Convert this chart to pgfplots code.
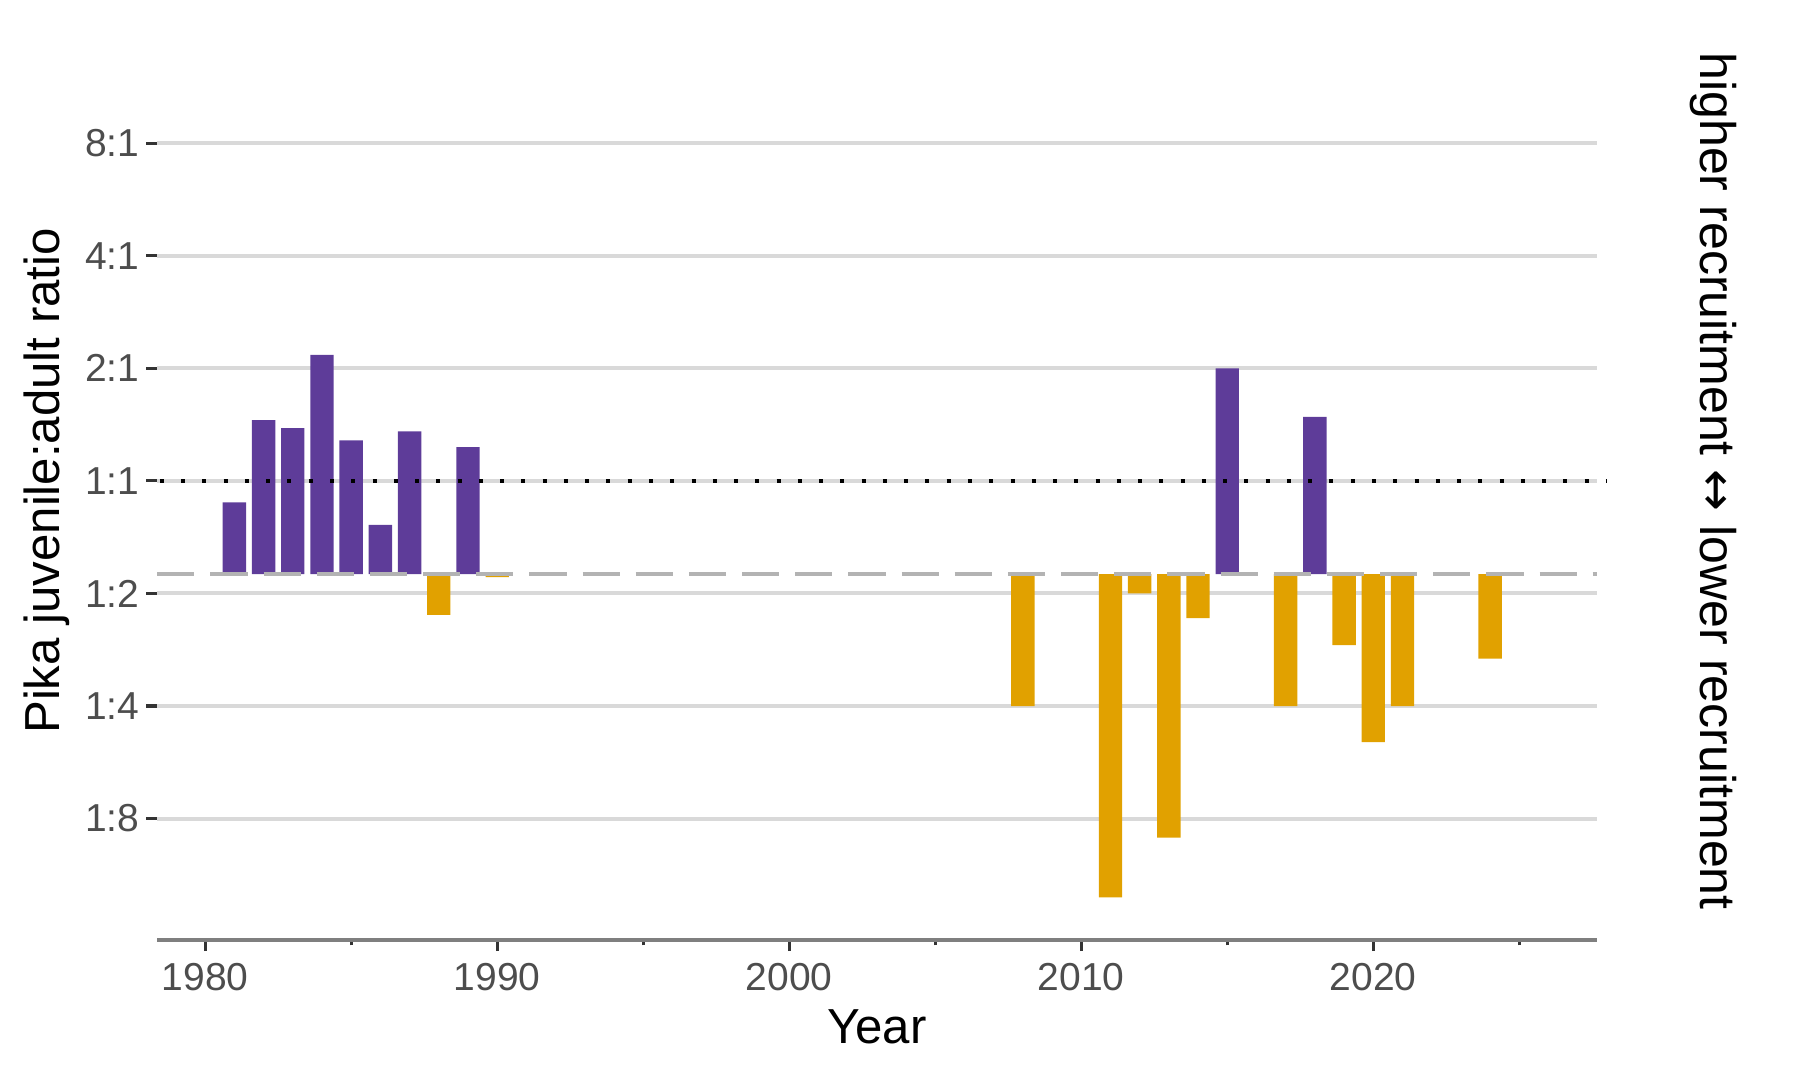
\documentclass[border=0pt]{standalone}
\usepackage{pgfplots}
\pgfplotsset{compat=1.18}
\usepackage{fontspec}
\setmainfont{Liberation Sans}
\newfontfamily\symbolfont{DejaVu Sans}

\definecolor{highrec}{HTML}{5E3C99}
\definecolor{lowrec}{HTML}{E1A100}
\definecolor{gridgrey}{HTML}{D9D9D9}
\definecolor{refgrey}{HTML}{B3B3B3}
\definecolor{axisgrey}{HTML}{7F7F7F}
\definecolor{tickgrey}{HTML}{333333}
\definecolor{labelgrey}{HTML}{4D4D4D}

% log2 juvenile:adult ratio by year; bars hang from the long-term baseline (-0.829)

\begin{document}
\begin{tikzpicture}
\useasboundingbox (-35.5pt,-31.6pt) rectangle (370.8pt,212.2pt);
\begin{axis}[
  at={(0pt,0pt)}, anchor=south west,
  scale only axis, width=324.9pt, height=207.3pt,
  xmin=1978.36, xmax=2027.65,
  ymin=-4.08, ymax=4.08,
  y coord trafo/.code={\pgfmathparse{#1+0.829}},
  y coord inv trafo/.code={\pgfmathparse{#1-0.829}},
  clip=false,
  axis x line*=bottom, axis y line*=left,
  x axis line style={-, draw=axisgrey, line width=1pt},
  y axis line style={draw=none},
  tick align=outside,
  major tick length=2.5pt, minor tick length=1.2pt,
  every tick/.style={tickgrey, line width=0.7pt},
  xtick={1980,1990,...,2020},
  minor xtick={1985,1995,...,2025},
  ytick={-3,-2,-1,0,1,2,3},
  yticklabels={1:8,1:4,1:2,1:1,2:1,4:1,8:1},
  ymajorgrids,
  major grid style={gridgrey, line width=0.9pt},
  /pgf/number format/assume math mode=true,
  /pgf/number format/1000 sep={},
  tick label style={font=\fontsize{8.8}{10}\selectfont, text=labelgrey},
  yticklabel shift=-2pt,
  xticklabel shift=-0.8pt,
  xlabel={Year}, ylabel={Pika juvenile:adult ratio},
  label style={font=\fontsize{11.1}{13}\selectfont, text=black},
  xlabel shift=-2.6pt,
  ylabel shift=-3.4pt,
]
% above the baseline
\addplot[ybar, bar width=0.8, fill=highrec, draw=none] coordinates {
  (1981,-0.19) (1982,0.54) (1983,0.47) (1984,1.12) (1985,0.36)
  (1986,-0.39) (1987,0.44) (1989,0.30) (2010,-0.81) (2015,1.00)
  (2018,0.57)
};
% below the baseline
\addplot[ybar, bar width=0.8, fill=lowrec, draw=none] coordinates {
  (1988,-1.19) (1990,-0.855) (2008,-2.00) (2011,-3.70) (2012,-1.00)
  (2013,-3.17) (2014,-1.22) (2017,-2.00) (2019,-1.46) (2020,-2.32)
  (2021,-2.00) (2024,-1.58)
};
% long-term baseline
\addplot[refgrey, line width=1pt, dash pattern=on 8.4pt off 3.6pt] coordinates {
  (1978.36,-0.829) (2027.65,-0.829)
};
% parity line 1:1
\addplot[black, line width=1pt, dash pattern=on 0.9pt off 3.9pt] coordinates {
  (1978.45,0) (2028.0,0)
};
\end{axis}
\node[rotate=-90, font=\fontsize{11.3}{13}\selectfont] at (351.2pt,103.6pt)
  {higher recruitment {\symbolfont ↔} lower recruitment};
\end{tikzpicture}
\end{document}
